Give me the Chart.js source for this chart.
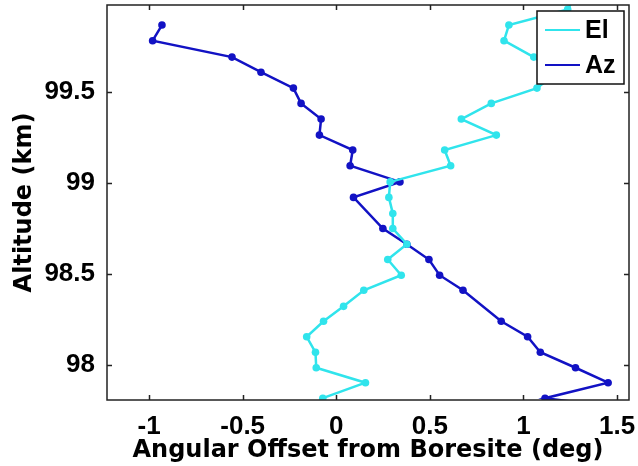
<!DOCTYPE html>
<html>
<head>
<meta charset="utf-8">
<script src="https://cdn.jsdelivr.net/npm/chart.js@4/dist/chart.umd.min.js"></script>
<style>
  html, body { margin: 0; padding: 0; background: #fff; }
  #wrap { width: 638px; height: 466px; }
</style>
</head>
<body>
<div id="wrap"><canvas id="Offsets"></canvas></div>
<script>
// El (elevation) offset vs altitude
var elAlt = [100.04, 99.952, 99.866, 99.78, 99.69, 99.607, 99.52, 99.436, 99.35, 99.262, 99.18, 99.094, 99.005,
             98.92, 98.832, 98.749, 98.663, 98.579, 98.493, 98.41, 98.322, 98.24, 98.155, 98.07, 97.985, 97.903, 97.818];
var elOffset = [1.285, 1.236, 0.922, 0.896, 1.055, 1.18, 1.072, 0.828, 0.668, 0.855, 0.579, 0.611, 0.288,
                0.281, 0.302, 0.302, 0.377, 0.275, 0.347, 0.147, 0.039, -0.068, -0.158, -0.111, -0.107, 0.156, -0.072];

// Az (azimuth) offset vs altitude
var azAlt = [99.866, 99.78, 99.69, 99.607, 99.52, 99.436, 99.35, 99.262, 99.18, 99.094, 99.005,
             98.92, 98.749, 98.663, 98.579, 98.493, 98.41, 98.24, 98.155, 98.07, 97.985, 97.903, 97.818, 97.735];
var azOffset = [-0.931, -0.981, -0.557, -0.402, -0.229, -0.188, -0.081, -0.09, 0.088, 0.074, 0.34,
                0.092, 0.249, 0.377, 0.495, 0.552, 0.677, 0.881, 1.022, 1.09, 1.278, 1.452, 1.115, 1.75];

var xTicks = [-1, -0.5, 0, 0.5, 1, 1.5];
var yTicks = [98, 98.5, 99, 99.5];

var elColor = '#30e4ec';
var azColor = '#1212c4';

function toPoints(xs, ys) {
  return xs.map(function (v, i) { return {x: v, y: ys[i]}; });
}

// MATLAB style box with inward ticks on all four sides
var boxPlugin = {
  id: 'boxTicks',
  afterDatasetsDraw: function (chart) {
    var ctx = chart.ctx, a = chart.chartArea;
    var xs = chart.scales.x, ys = chart.scales.y;
    var len = 5;
    ctx.save();
    ctx.strokeStyle = '#222';
    ctx.lineWidth = 1.5;
    ctx.strokeRect(a.left, a.top, a.right - a.left, a.bottom - a.top);
    ctx.beginPath();
    xTicks.forEach(function (v) {
      var px = Math.round(xs.getPixelForValue(v)) + 0.5;
      ctx.moveTo(px, a.bottom); ctx.lineTo(px, a.bottom - len);
      ctx.moveTo(px, a.top); ctx.lineTo(px, a.top + len);
    });
    yTicks.forEach(function (v) {
      var py = Math.round(ys.getPixelForValue(v)) + 0.5;
      ctx.moveTo(a.left, py); ctx.lineTo(a.left + len, py);
      ctx.moveTo(a.right, py); ctx.lineTo(a.right - len, py);
    });
    ctx.stroke();
    ctx.restore();
  }
};

// legend box drawn inside the plot, top right
var legendPlugin = {
  id: 'insideLegend',
  afterDraw: function (chart) {
    var ctx = chart.ctx, a = chart.chartArea;
    var w = 87, h = 73;
    var left = a.right - 5 - w, top = a.top + 6;
    ctx.save();
    ctx.fillStyle = '#fff';
    ctx.fillRect(left, top, w, h);
    ctx.strokeStyle = '#111';
    ctx.lineWidth = 1.5;
    ctx.strokeRect(left, top, w, h);
    ctx.font = 'bold 25px "Liberation Sans", Arial, sans-serif';
    ctx.textBaseline = 'middle';
    chart.data.datasets.forEach(function (ds, i) {
      var y = top + 19 + i * 35;
      ctx.strokeStyle = ds.borderColor;
      ctx.lineWidth = 2;
      ctx.beginPath();
      ctx.moveTo(left + 8, y);
      ctx.lineTo(left + 43, y);
      ctx.stroke();
      ctx.fillStyle = '#000';
      ctx.fillText(ds.label, left + 48, y + 1);
    });
    ctx.restore();
  }
};

var tickFont = {family: '"Liberation Sans", Arial, sans-serif', size: 26, weight: 'bold'};
var titleFont = {family: '"DejaVu Sans", sans-serif', size: 24, weight: 'bold'};

new Chart('Offsets', {
  type: 'line',
  data: {
    datasets: [
      {label: 'El', data: toPoints(elOffset, elAlt), borderColor: elColor, backgroundColor: elColor,
       borderWidth: 2.5, pointRadius: 3.8, pointBorderWidth: 0, tension: 0},
      {label: 'Az', data: toPoints(azOffset, azAlt), borderColor: azColor, backgroundColor: azColor,
       borderWidth: 2.5, pointRadius: 3.8, pointBorderWidth: 0, tension: 0}
    ]
  },
  options: {
    responsive: true,
    maintainAspectRatio: false,
    animation: false,
    layout: {padding: {top: 5, right: 9, left: 0, bottom: 0}},
    plugins: {legend: {display: false}, tooltip: {enabled: false}},
    scales: {
      x: {
        type: 'linear',
        min: -1.2246, max: 1.5636,
        grid: {display: false},
        border: {display: false},
        afterBuildTicks: function (s) { s.ticks = xTicks.map(function (v) { return {value: v}; }); },
        afterFit: function (s) { s.height = 66; s.paddingLeft = 0; s.paddingRight = 0; },
        ticks: {color: '#000', font: tickFont, padding: 3, maxRotation: 0,
                callback: function (v) { return String(v); }},
        title: {display: true, text: 'Angular Offset from Boresite (deg)', color: '#000',
                font: titleFont, padding: {top: 0, bottom: 1}}
      },
      y: {
        type: 'linear',
        min: 97.808, max: 99.976,
        grid: {display: false},
        border: {display: false},
        afterBuildTicks: function (s) { s.ticks = yTicks.map(function (v) { return {value: v}; }); },
        afterFit: function (s) { s.width = 107; s.paddingTop = 0; s.paddingBottom = 0; },
        ticks: {color: '#000', font: tickFont, padding: 4,
                callback: function (v) { return String(v); }},
        title: {display: true, text: 'Altitude (km)', color: '#000',
                font: titleFont, padding: {top: 10, bottom: 0}}
      }
    }
  },
  plugins: [boxPlugin, legendPlugin]
});
</script>
</body>
</html>
